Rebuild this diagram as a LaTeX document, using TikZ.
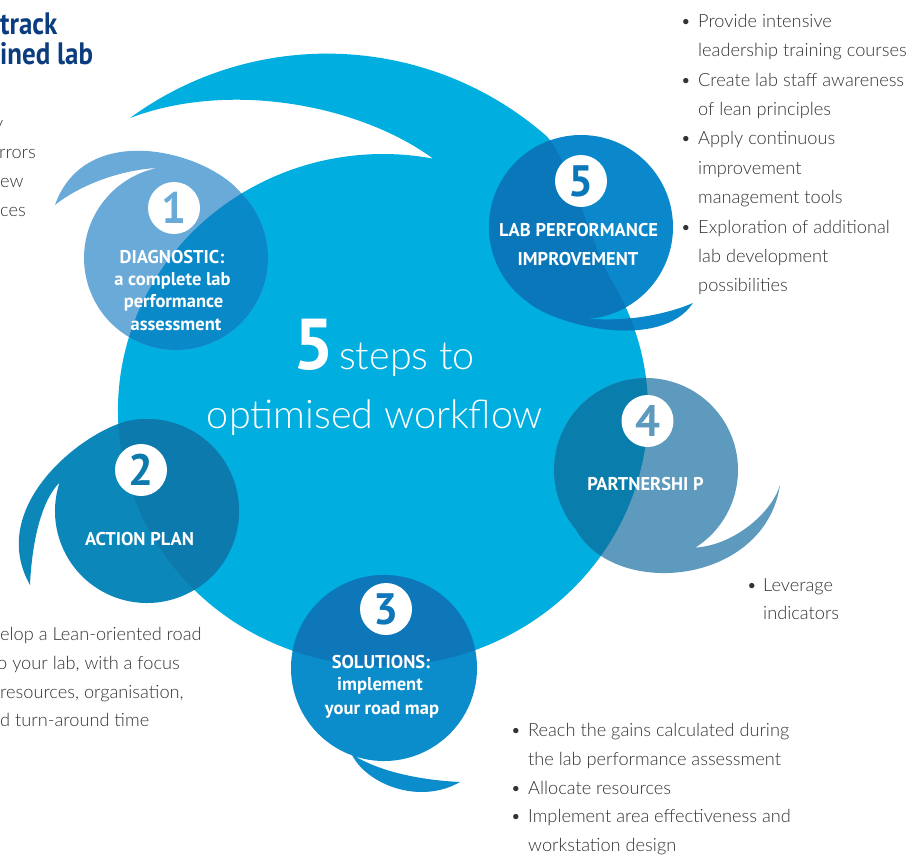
\documentclass[tikz,border=0pt]{standalone}
\usepackage{fontspec}
\setmainfont{Carlito}
\newfontfamily\bodyfont{Lato Light}
\newfontfamily\lblfont{PT Sans}
\newfontfamily\headfont[FakeStretch=0.87]{PT Sans}
\usetikzlibrary{calc}
\definecolor{cyanB}{HTML}{00AEDF}
\definecolor{cOne}{HTML}{6AAAD9}
\definecolor{cOneD}{HTML}{0A89C9}
\definecolor{cTwo}{HTML}{0B88B9}
\definecolor{cTwoD}{HTML}{0C7AAC}
\definecolor{cThree}{HTML}{0B8CCB}
\definecolor{cThreeD}{HTML}{0E77B9}
\definecolor{cFour}{HTML}{5E9ABD}
\definecolor{cFourD}{HTML}{097EAD}
\definecolor{cFive}{HTML}{0A88CB}
\definecolor{cFiveD}{HTML}{0B77BB}
\definecolor{navy}{HTML}{0B3D7E}
\definecolor{txtgray}{HTML}{333333}
\newcommand\pathBig{(130,118) arc[start angle=-126.2, end angle=-49.1, radius=333.5] .. controls (567.7,154.7) and (592,247.7) .. (612.5,282) arc[start angle=-30, end angle=280.9, x radius=265, y radius=256] .. controls (360,105) and (230,80) .. cycle}
\newcommand\pathOne{(55,205) .. controls (80,185) and (120,170) .. (156.9,168.0) arc[start angle=258, end angle=-45, radius=92] .. controls (205,150) and (85,120) .. cycle}
\newcommand\pathTwo{(30,585) .. controls (32,540) and (42,500) .. (59.5,482.57) arc[start angle=198, end angle=-100, radius=92] .. controls (87,428) and (-15,505) .. cycle}
\newcommand\pathThree{(460,782) .. controls (420,780) and (382,772) .. (355.26,756.45) arc[start angle=108, end angle=-250, radius=93] .. controls (368,785) and (420,805) .. cycle}
\newcommand\pathFour{(780,485) .. controls (772,512) and (735,545) .. (695.43,547.59) arc[start angle=57.5, end angle=-220, radius=92] .. controls (615,600) and (765,585) .. cycle}
\newcommand\pathFive{(693,303) .. controls (665,315) and (625,322) .. (587.42,318.78) arc[start angle=86, end angle=-235, radius=92] .. controls (555,325) and (660,352) .. cycle}
\tikzset{
  body/.style={font=\bodyfont\fontsize{18.2}{22}\selectfont, text=txtgray, inner sep=0pt, anchor=base west},
  bul/.style={font=\bodyfont\fontsize{18.2}{22}\selectfont, text=txtgray, inner sep=0pt, anchor=base},
  lbl/.style={font=\lblfont\bfseries\fontsize{18.5}{22}\selectfont, text=white, inner sep=0pt, anchor=base},
  badge/.style={circle, fill=white, minimum size=52pt, inner sep=0pt, font=\lblfont\bfseries\fontsize{44}{44}\selectfont},
  head/.style={font=\headfont\bfseries\fontsize{31}{34}\selectfont, text=navy, inner sep=0pt, anchor=base west}
}
\begin{document}
\begin{tikzpicture}[x=1pt,y=-1pt]
\useasboundingbox (0,0) rectangle (907,856);
\clip (0,0) rectangle (907,856);
% shapes
\fill[cyanB] \pathBig;
\fill[cOne] \pathOne;
\fill[cTwo] \pathTwo;
\fill[cThree] \pathThree;
\fill[cFour] \pathFour;
\fill[cFive] \pathFive;
\begin{scope}
  \clip \pathBig;
  \fill[cOneD] \pathOne;
  \fill[cTwoD] \pathTwo;
  \fill[cThreeD] \pathThree;
  \fill[cFourD] \pathFour;
  \fill[cFiveD] \pathFive;
\end{scope}
% heading
\node[head] (h1) at (0,35) {track};
\node[head] (h2) at (0,65) {ined lab};
% left fragments
\node[body, anchor=base east] (l0) at (3.5,129.5) {y};
\node[body] (l1) at (-1,158.3) {rrors};
\node[body] (l2) at (0,187.3) {ew};
\node[body] (l3) at (0,216.7) {ces};
% bottom-left fragments
\node[body] (bl1) at (0,640.7) {elop a Lean-oriented road};
\node[body] (bl2) at (-3,669.4) {o your lab, with a focus};
\node[body] (bl3) at (0,698.1) {resources, organisation,};
\node[body] (bl4) at (0,726.8) {d turn-around time};
% top-right list
\node[bul] (tb1) at (686,27.3) {•};
\node[body] (tr1) at (698,27.3) {Provide intensive};
\node[body] (tr2) at (698,56.7) {leadership training courses};
\node[bul] (tb2) at (686,86.1) {•};
\node[body] (tr3) at (698,86.1) {Create lab staff awareness};
\node[body] (tr4) at (698,115.5) {of lean principles};
\node[bul] (tb3) at (686,144.9) {•};
\node[body] (tr5) at (698,144.9) {Apply continuous};
\node[body] (tr6) at (698,174.3) {improvement};
\node[body] (tr7) at (698,203.7) {management tools};
\node[bul] (tb4) at (686,233.1) {•};
\node[body] (tr8) at (698,233.1) {Exploration of additional};
\node[body] (tr9) at (698,262.5) {lab development};
\node[body] (tr10) at (698,291.9) {possibilities};
% leverage
\node[bul] (lb1) at (752,591) {•};
\node[body] (lv1) at (763,591) {Leverage};
\node[body] (lv2) at (763,619) {indicators};
% bottom list
\node[bul] (bb1) at (516,736.7) {•};
\node[body] (br1) at (528,736.7) {Reach the gains calculated during};
\node[body] (br2) at (528,765.4) {the lab performance assessment};
\node[bul] (bb2) at (516,794.1) {•};
\node[body] (br3) at (528,794.1) {Allocate resources};
\node[bul] (bb3) at (516,822.8) {•};
\node[body] (br4) at (528,822.8) {Implement area effectiveness and};
\node[body] (br5) at (528,851.5) {workstation design};
% title
\node[inner sep=0pt, anchor=base, text=white, font=\bodyfont\fontsize{39.5}{46}\selectfont] (t1) at (384,369) {{\lblfont\bfseries\fontsize{72}{72}\selectfont 5}\hspace{5pt}steps to};
\node[inner sep=0pt, anchor=base, text=white, font=\bodyfont\fontsize{39.5}{46}\selectfont] (t2) at (375,428.3) {optimised workflow};
% badges
\node[badge, text=cOne] (b1) at (174,208) {1};
\node[badge, text=cTwoD] (b2) at (141,470) {2};
\node[badge, text=cThreeD] (b3) at (386,609) {3};
\node[badge, text=cFour] (b4) at (647.5,421) {4};
\node[badge, text=cFiveD] (b5) at (581,181) {5};
% labels
\node[lbl] (d1) at (172,263.3) {DIAGNOSTIC:};
\node[lbl] (d2) at (172.5,285.7) {a complete lab};
\node[lbl] (d3) at (173.5,307.5) {performance};
\node[lbl] (d4) at (176,330) {assessment};
\node[lbl] (a1) at (139.5,545) {ACTION PLAN};
\node[lbl] (s1) at (381,668.3) {SOLUTIONS:};
\node[lbl] (s2) at (380,690.5) {implement};
\node[lbl] (s3) at (382,714) {your road map};
\node[lbl] (p1) at (645.5,490) {PARTNERSHI P};
\node[lbl] (f1) at (578.5,236.7) {LAB PERFORMANCE};
\node[lbl] (f2) at (578,265) {IMPROVEMENT};
\end{tikzpicture}
\end{document}
